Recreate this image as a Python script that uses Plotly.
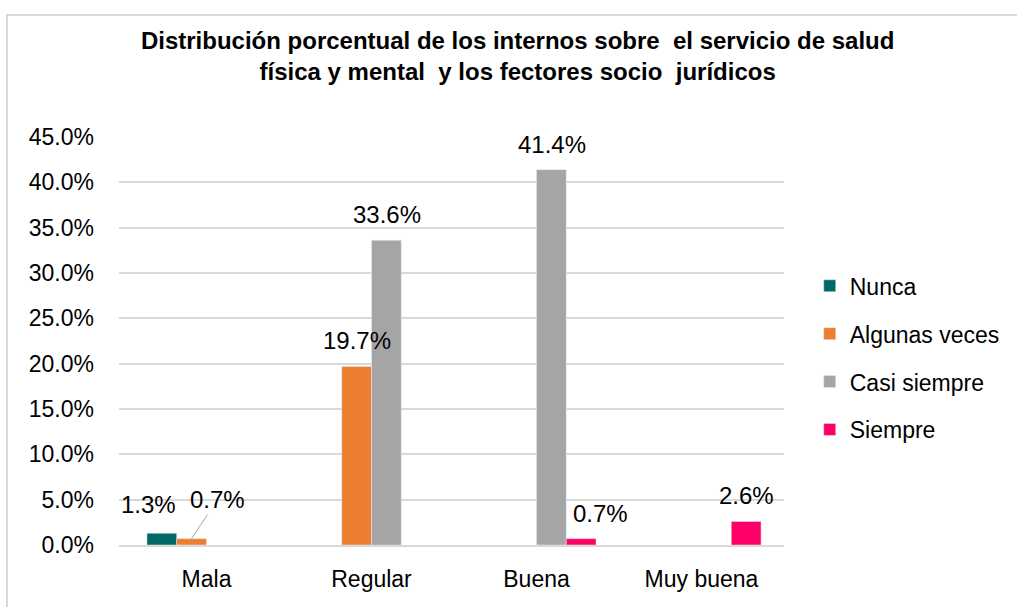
import plotly.graph_objects as go

categorias = ["Mala", "Regular", "Buena", "Muy buena"]
series = ["Nunca", "Algunas veces", "Casi siempre", "Siempre"]
colores = ["#006B64", "#ED7D31", "#A5A5A5", "#FF0066"]
nunca = [1.3, None, None, None]
algunas_veces = [0.7, 19.7, None, None]
casi_siempre = [None, 33.6, 41.4, None]
siempre = [None, None, 0.7, 2.6]
valores = [nunca, algunas_veces, casi_siempre, siempre]

# manual label nudges (pixels) like the moved Excel labels
ajuste = {(0, 0): (-13, 3), (2, 3): (19, 0)}

W, H = 1017, 607
ML, MR, MT, MB = 119, 233, 137, 62
pw = W - ML - MR
ph = H - MT - MB
slot = 30
cat_w = pw / len(categorias)
gap = 1 - slot * len(series) / cat_w

fuente = "Liberation Sans, Arial"

fig = go.Figure()
for name, col, vals in zip(series, colores, valores):
    fig.add_trace(go.Bar(x=categorias, y=vals, name=name, marker_color=col,
                         legendgroup=name))

anns = []
for j, vals in enumerate(valores):
    for i, v in enumerate(vals):
        if v is None:
            continue
        xs = (j - 1.5) * slot
        if (i, j) == (0, 1):
            # label pulled out with leader line
            anns.append(dict(x=categorias[i], y=v, xshift=xs, text=f"{v:.1f}%",
                             showarrow=True, arrowhead=0, arrowwidth=1,
                             arrowcolor="#A5A5A5", ax=26, ay=-39,
                             font=dict(size=24, color="#000", family=fuente)))
            continue
        dx, dy = ajuste.get((i, j), (0, 0))
        anns.append(dict(x=categorias[i], y=v, xshift=xs + dx, yshift=10 + dy,
                         yanchor="bottom", text=f"{v:.1f}%", showarrow=False,
                         font=dict(size=24, color="#000", family=fuente)))

fig.update_layout(
    width=W, height=H,
    margin=dict(l=ML, r=MR, t=MT, b=MB, autoexpand=False),
    barmode="group", bargap=gap, bargroupgap=0,
    plot_bgcolor="white", paper_bgcolor="white",
    font=dict(family=fuente, size=23, color="#000"),
    title=dict(text="<b>Distribución porcentual de los internos sobre  el servicio de salud<br>física y mental  y los fectores socio  jurídicos</b>",
               x=0.509, xanchor="center", y=0.92, yanchor="top",
               font=dict(size=24, family=fuente)),
    xaxis=dict(showgrid=False, showline=True, linecolor="#D9D9D9", linewidth=2,
               ticks="", ticklabelstandoff=12, automargin=False),
    yaxis=dict(range=[0, 45], dtick=5, tickformat=".1f", ticksuffix="%",
               showgrid=True, gridcolor="#D9D9D9", gridwidth=2, zeroline=False,
               showline=False, ticklabelstandoff=24, automargin=False),
    legend=dict(x=1.0387, y=0.688, yanchor="top", xanchor="left",
                tracegroupgap=15, font=dict(size=23),
                itemwidth=30),
    annotations=anns,
    showlegend=True,
)

# chart frame (left/top edges visible)
fig.add_shape(type="rect", xref="paper", yref="paper",
              x0=(7 - ML) / pw, x1=(W + 20 - ML) / pw,
              y0=-(MB + 20) / ph, y1=(H - MB - 15) / ph,
              line=dict(color="#D9D9D9", width=2), layer="below")

fig.write_html("out.html", config={"displayModeBar": False},
               post_script="document.body.style.margin='0';")
